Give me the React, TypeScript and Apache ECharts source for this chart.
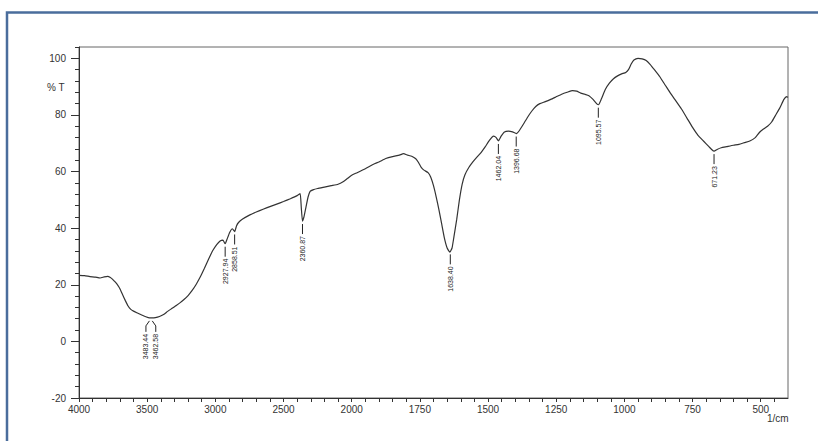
import React, { useEffect, useRef } from 'react';
import * as echarts from 'echarts';

// FTIR spectrum: wavenumber (1/cm) and transmittance (%T)
const wavenumbers = [
  4000, 3960, 3920, 3880, 3845, 3815, 3790, 3770, 3755, 3735, 3715, 3700, 3680, 3660, 3640, 3620, 3600,
  3570, 3540, 3510, 3483, 3462, 3440, 3410, 3380, 3350, 3320, 3290, 3260, 3230, 3200, 3170, 3140, 3110,
  3080, 3050, 3020, 2990, 2965, 2945, 2928, 2915, 2895, 2875, 2858, 2845, 2830, 2800, 2750, 2700, 2650,
  2600, 2550, 2500, 2450, 2400, 2378, 2370, 2361, 2350, 2335, 2320, 2305, 2280, 2250, 2200, 2150, 2100,
  2060, 2030, 2000, 1980, 1950, 1920, 1900, 1875, 1850, 1825, 1810, 1795, 1780, 1765, 1755, 1745, 1735,
  1720, 1710, 1700, 1690, 1680, 1670, 1660, 1650, 1640, 1632, 1625, 1615, 1605, 1595, 1585, 1570, 1555,
  1540, 1525, 1510, 1495, 1480, 1470, 1462, 1452, 1440, 1425, 1410, 1396, 1385, 1370, 1355, 1340, 1325,
  1310, 1290, 1270, 1250, 1230, 1210, 1190, 1175, 1160, 1145, 1130, 1115, 1100, 1095, 1085, 1070, 1055,
  1040, 1025, 1010, 995, 985, 975, 965, 950, 935, 920, 905, 890, 870, 850, 830, 810, 790, 770, 750, 730,
  710, 690, 680, 671, 660, 645, 625, 600, 580, 560, 540, 520, 505, 490, 475, 460, 445, 430, 415, 405, 400,
];
const transmittance = [
  23.3, 23.2, 22.9, 22.7, 22.4, 22.8, 23.0, 22.6, 22.0, 21.0, 19.8, 18.6, 16.5, 14.4, 12.5, 11.3, 10.7,
  10.0, 9.3, 8.7, 8.3, 8.3, 8.4, 8.8, 9.5, 10.6, 11.6, 12.6, 13.6, 14.8, 16.2, 18.0, 20.2, 22.8,
  25.8, 29.0, 32.0, 34.2, 35.5, 35.8, 34.5, 36.0, 38.5, 39.8, 38.8, 40.8, 42.0, 43.2, 44.6, 45.7, 46.7,
  47.6, 48.5, 49.4, 50.4, 51.5, 52.2, 47.5, 42.5, 44.0, 47.5, 51.0, 53.0, 53.6, 54.0, 54.5, 55.0, 55.5,
  56.5, 57.6, 58.7, 59.6, 61.0, 62.6, 63.4, 64.6, 65.3, 65.8, 66.3, 65.8, 65.4, 64.5, 63.2, 61.5, 60.5,
  59.6, 58.0, 55.0, 51.0, 46.5, 41.5, 36.5, 33.0, 31.5, 33.0, 37.0, 43.0, 50.0, 55.5, 58.8, 61.5, 63.5,
  65.2, 66.8, 68.8, 71.0, 72.5, 72.0, 70.8, 72.5, 74.0, 74.3, 74.0, 73.4, 74.5, 76.8, 79.2, 81.3, 83.0,
  84.0, 84.7, 85.5, 86.4, 87.3, 88.0, 88.6, 88.4, 87.7, 87.3, 86.8, 85.5, 83.8, 83.6, 85.5, 89.0, 91.2,
  92.8, 93.8, 94.5, 95.0, 96.0, 98.0, 99.4, 100.0, 99.8, 99.2, 97.8, 96.0, 93.5, 90.5, 87.5, 84.8, 82.0, 78.8, 75.6, 72.8,
  70.8, 68.8, 67.8, 67.2, 67.8, 68.4, 68.8, 69.3, 69.6, 70.2, 70.8, 72.0, 73.8, 75.0, 76.0, 77.5, 80.0, 82.5, 85.5, 86.5, 86.2,
];
const peakWavenumbers = [3483.44, 3462.58, 2927.94, 2858.51, 2360.87, 1638.4, 1462.04, 1396.68, 1095.57, 671.23];
const peakLabels = ['3483.44', '3462.58', '2927.94', '2858.51', '2360.87', '1638.40', '1462.04', '1396.68', '1095.57', '671.23'];
const xTickLabels = [4000, 3500, 3000, 2500, 2000, 1750, 1500, 1250, 1000, 750, 500];
const yTickLabels = [-20, 0, 20, 40, 60, 80, 100];

// Shimadzu-style split axis: 4000-2000 compressed 2x relative to 2000-400
const toU = (wn: number) => (wn >= 2000 ? (4000 - wn) / 2 : 1000 + (2000 - wn));
const fromU = (u: number) => (u <= 1000 ? 4000 - 2 * u : 2000 - (u - 1000));

const interpT = (wn: number) => {
  for (let i = 0; i < wavenumbers.length - 1; i++) {
    const a = wavenumbers[i];
    const b = wavenumbers[i + 1];
    if (wn <= a && wn >= b) {
      const f = (a - wn) / (a - b);
      return transmittance[i] + f * (transmittance[i + 1] - transmittance[i]);
    }
  }
  return transmittance[transmittance.length - 1];
};

const FONT = "'Liberation Sans', Arial, sans-serif";

export default function App() {
  const ref = useRef<HTMLDivElement>(null);

  useEffect(() => {
    if (!ref.current) return;
    const chart = echarts.init(ref.current, undefined, { renderer: 'svg' });
    const peakData = peakWavenumbers.map((w) => [toU(w), interpT(w)]);

    chart.setOption({
      animation: false,
      backgroundColor: '#ffffff',
      grid: {
        left: 79,
        right: 30,
        top: 47,
        bottom: 43,
        show: true,
        borderColor: '#666',
        borderWidth: 1,
      },
      xAxis: {
        type: 'value',
        min: 0,
        max: 2600,
        interval: 50,
        axisLine: { show: true, onZero: false, lineStyle: { color: '#333', width: 1 } },
        axisTick: { show: true, length: 4, lineStyle: { color: '#333' } },
        splitLine: { show: false },
        axisLabel: {
          show: true,
          margin: 6,
          fontSize: 10,
          fontFamily: FONT,
          color: '#333',
          showMaxLabel: false,
          formatter: (v: number) => {
            const r = Math.round(v);
            const wn = fromU(r);
            return xTickLabels.includes(wn) && Math.abs(v - r) < 1e-6 ? String(wn) : '';
          },
        },
      },
      yAxis: [
        {
          type: 'value',
          min: -20,
          max: 104,
          interval: 4,
          axisLine: { show: true, onZero: false, lineStyle: { color: '#333', width: 1 } },
          axisTick: { show: true, length: 4, lineStyle: { color: '#333' } },
          splitLine: { show: false },
          axisLabel: {
            show: true,
            margin: 13,
            fontSize: 10,
            fontFamily: FONT,
            color: '#333',
            formatter: (v: number) => (yTickLabels.includes(Math.round(v)) && Math.abs(v - Math.round(v)) < 1e-6 ? String(Math.round(v)) : ''),
          },
        },
        {
          type: 'value',
          position: 'left',
          min: -20,
          max: 104,
          interval: 20,
          axisLine: { show: false },
          axisTick: { show: true, length: 8, lineStyle: { color: '#333' }, customValues: yTickLabels },
          axisLabel: { show: false },
          splitLine: { show: false },
        },
      ],
      series: [
        {
          type: 'line',
          xAxisIndex: 0,
          yAxisIndex: 0,
          data: wavenumbers.map((w, i) => [toU(w), transmittance[i]]),
          showSymbol: false,
          smooth: 0.15,
          lineStyle: { color: '#333', width: 1.2 },
          silent: true,
        },
        {
          type: 'custom',
          xAxisIndex: 0,
          yAxisIndex: 0,
          data: peakData,
          silent: true,
          renderItem: (params: any, api: any) => {
            const i = params.dataIndex;
            const u = api.value(0);
            const t = api.value(1);
            const p = api.coord([u, t]);
            let dx = 0;
            if (i + 1 < peakData.length && Math.abs(peakData[i + 1][0] - u) < 30) dx = -3.5;
            if (i > 0 && Math.abs(peakData[i - 1][0] - u) < 30) dx = 3.5;
            const x0 = p[0];
            const y0 = p[1] + 3;
            const pts = dx === 0
              ? [[x0, y0], [x0, y0 + 10]]
              : [[x0, y0], [x0 + dx, y0 + 5], [x0 + dx, y0 + 11]];
            const endY = pts[pts.length - 1][1];
            return {
              type: 'group',
              children: [
                {
                  type: 'polyline',
                  shape: { points: pts },
                  style: { stroke: '#222', lineWidth: 1, fill: null },
                },
                {
                  type: 'text',
                  x: x0 + dx,
                  y: endY + 2,
                  rotation: Math.PI / 2,
                  style: {
                    text: peakLabels[i],
                    fontSize: 7,
                    fontFamily: FONT,
                    fill: '#222',
                    align: 'right',
                    verticalAlign: 'middle',
                  },
                },
              ],
            };
          },
        },
      ],
      graphic: [
        {
          type: 'rect',
          shape: { x: 7, y: 12.5, width: 900, height: 500 },
          style: { fill: null, stroke: '#4a6d9c', lineWidth: 2.5 },
          silent: true,
        },
        {
          type: 'text',
          x: 47,
          y: 82,
          style: { text: '% T', fontSize: 10, fontFamily: FONT, fill: '#333' },
        },
        {
          type: 'text',
          x: 767,
          y: 413,
          style: { text: '1/cm', fontSize: 10, fontFamily: FONT, fill: '#333' },
        },
      ],
    });

    return () => {
      chart.dispose();
    };
  }, []);

  return (
    <div
      ref={ref}
      style={{ position: 'fixed', left: 0, top: 0, width: 818, height: 441, background: '#fff' }}
    />
  );
}
